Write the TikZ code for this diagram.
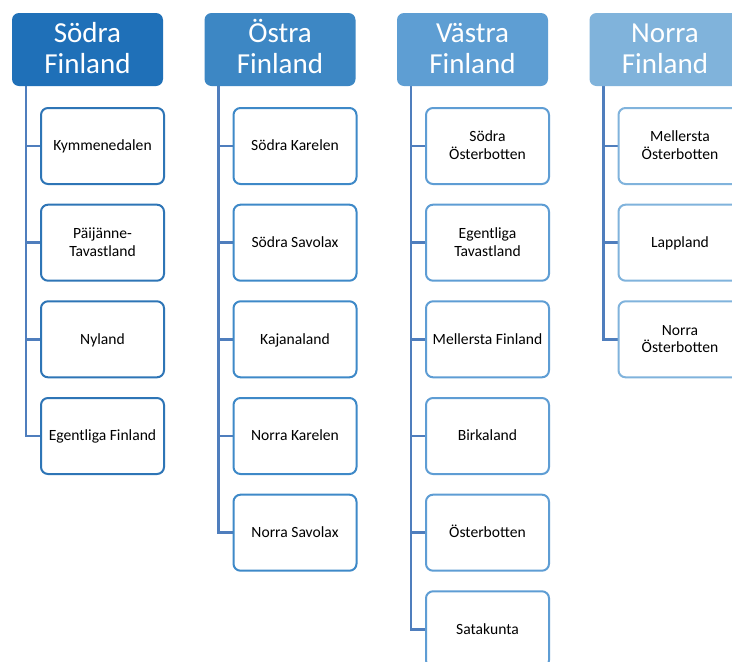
\documentclass[tikz,border=0pt]{standalone}
\usepackage{fontspec}
\setmainfont{Carlito}
\usetikzlibrary{backgrounds}
\definecolor{hS}{HTML}{1F70B8}
\definecolor{hO}{HTML}{3D87C4}
\definecolor{hV}{HTML}{5E9ED3}
\definecolor{hN}{HTML}{80B3DB}
\definecolor{bS}{HTML}{2E75B6}
\definecolor{bO}{HTML}{3E89C8}
\definecolor{bV}{HTML}{5E9DD4}
\definecolor{bN}{HTML}{80B3DC}
\definecolor{connc}{HTML}{4F7EBD}
\begin{document}
\begin{tikzpicture}[x=1pt,y=-1pt,
  hdr/.style={rounded corners=7pt, minimum width=151pt, minimum height=73pt, inner sep=0pt,
    text=white, font=\fontsize{29}{31}\selectfont, align=center, text height=54pt, text depth=7pt},
  child/.style={draw, line width=2pt, rounded corners=7pt, fill=white, minimum width=123pt,
    minimum height=76pt, inner sep=0pt, text=black, font=\fontsize{15.6}{17.6}\selectfont,
    align=center, text height=13pt, text depth=3.6pt},
  two/.style={text height=30.6pt},
  conn/.style={draw=connc, line width=2.5pt}]
\useasboundingbox (0,0) rectangle (732,662);
% headers
\node[hdr, fill=hS] (hs) at (87.5,49.5) {Södra\\Finland};
\node[hdr, fill=hO] (ho) at (280,49.5) {Östra\\Finland};
\node[hdr, fill=hV] (hv) at (472.5,49.5) {Västra\\Finland};
\node[hdr, fill=hN] (hn) at (665,49.5) {Norra\\Finland};
% Södra
\node[child, draw=bS] (s1) at (102.5,146) {Kymmenedalen};
\node[child, draw=bS, two] (s2) at (102.5,242.7) {Päijänne-\\Tavastland};
\node[child, draw=bS] (s3) at (102.5,339.3) {Nyland};
\node[child, draw=bS] (s4) at (102.5,436) {Egentliga Finland};
% Östra
\node[child, draw=bO] (o1) at (295,146) {Södra Karelen};
\node[child, draw=bO] (o2) at (295,242.7) {Södra Savolax};
\node[child, draw=bO] (o3) at (295,339.3) {Kajanaland};
\node[child, draw=bO] (o4) at (295,436) {Norra Karelen};
\node[child, draw=bO] (o5) at (295,532.7) {Norra Savolax};
% Västra
\node[child, draw=bV, two] (v1) at (487.5,146) {Södra\\Österbotten};
\node[child, draw=bV, two] (v2) at (487.5,242.7) {Egentliga\\Tavastland};
\node[child, draw=bV] (v3) at (487.5,339.3) {Mellersta Finland};
\node[child, draw=bV] (v4) at (487.5,436) {Birkaland};
\node[child, draw=bV] (v5) at (487.5,532.7) {Österbotten};
\node[child, draw=bV] (v6) at (487.5,629.3) {Satakunta};
% Norra
\node[child, draw=bN, two] (n1) at (680,146) {Mellersta\\Österbotten};
\node[child, draw=bN] (n2) at (680,242.7) {Lappland};
\node[child, draw=bN, two] (n3) at (680,339.3) {Norra\\Österbotten};
% connectors
\coordinate (cs) at (26,86);
\coordinate (co) at (218.5,86);
\coordinate (cv) at (411,86);
\coordinate (cn) at (603.5,86);
\begin{scope}[on background layer]
\fill[white] (0,0) rectangle (732,662);
\foreach \c in {s1,s2,s3,s4} \draw[conn] (cs) |- (\c.west);
\foreach \c in {o1,o2,o3,o4,o5} \draw[conn] (co) |- (\c.west);
\foreach \c in {v1,v2,v3,v4,v5,v6} \draw[conn] (cv) |- (\c.west);
\foreach \c in {n1,n2,n3} \draw[conn] (cn) |- (\c.west);
\end{scope}
\end{tikzpicture}
\end{document}
